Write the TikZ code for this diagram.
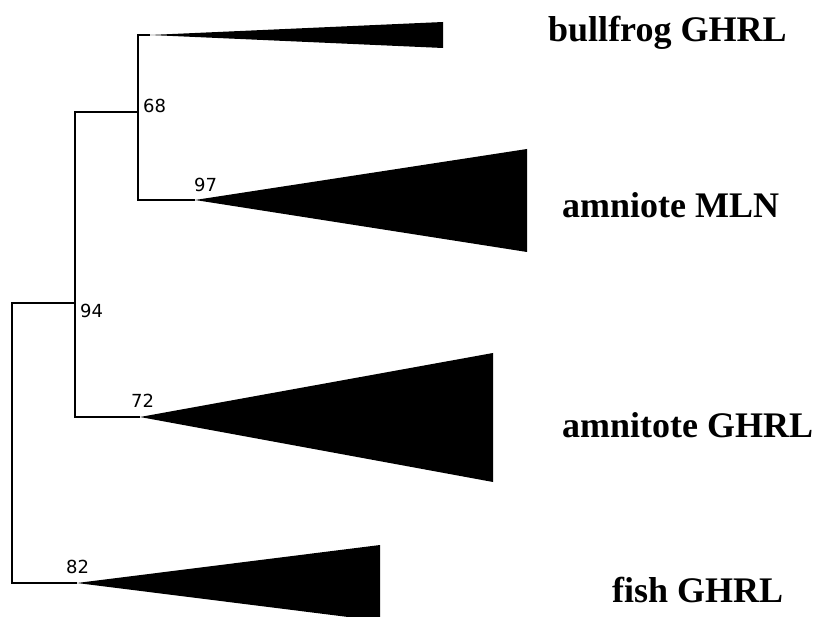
\documentclass[tikz,border=0pt]{standalone}
\usepackage{fontspec}
\setmainfont{Liberation Serif}
\newfontfamily\supportfont{DejaVu Sans}
\begin{document}
\begin{tikzpicture}[x=1pt, y=-1pt]
\tikzstyle{branch} = [draw, line width=2.5pt, line join=miter];
\tikzstyle{clade} = [fill=black];
\tikzstyle{support} = [anchor=base west, inner sep=0pt, font=\supportfont\fontsize{18}{18}\selectfont];
\tikzstyle{taxon} = [anchor=base west, inner sep=0pt, font=\bfseries\fontsize{36}{36}\selectfont];
\useasboundingbox (0,0) rectangle (814,617);
\clip (0,0) rectangle (814,617);
% internal nodes
\coordinate (root) at (12, 440);
\coordinate (n94) at (75, 303);
\coordinate (n68) at (138, 112);
\coordinate (n97) at (195, 200);
\coordinate (n72) at (140, 417);
\coordinate (n82) at (77, 583);
\coordinate (bf) at (150, 35);
% branches
\draw[branch] (n82) -| (root) |- (n94);
\draw[branch] (n72) -| (n94) |- (n68);
\draw[branch] (n97) -| (n68) |- (bf);
% collapsed clades
\fill[clade] (bf) -- (443, 22) -- (443, 48) -- cycle;
\fill[clade] (n97) -- (527, 149) -- (527, 252) -- cycle;
\fill[clade] (n72) -- (493, 353) -- (493, 482) -- cycle;
\fill[clade] (n82) -- (380, 545) -- (380, 621) -- cycle;
% bootstrap values
\node[support] (b68) at (143, 113) {68};
\node[support] (b97) at (194, 192) {97};
\node[support] (b94) at (80, 318) {94};
\node[support] (b72) at (131, 408) {72};
\node[support] (b82) at (66, 573) {82};
% taxa
\node[taxon] (bullfrog) at (548, 42) {bullfrog GHRL};
\node[taxon] (mln) at (562, 218) {amniote MLN};
\node[taxon] (ghrl) at (562, 437) {amnitote GHRL};
\node[taxon] (fish) at (612, 602) {fish GHRL};
\end{tikzpicture}
\end{document}
